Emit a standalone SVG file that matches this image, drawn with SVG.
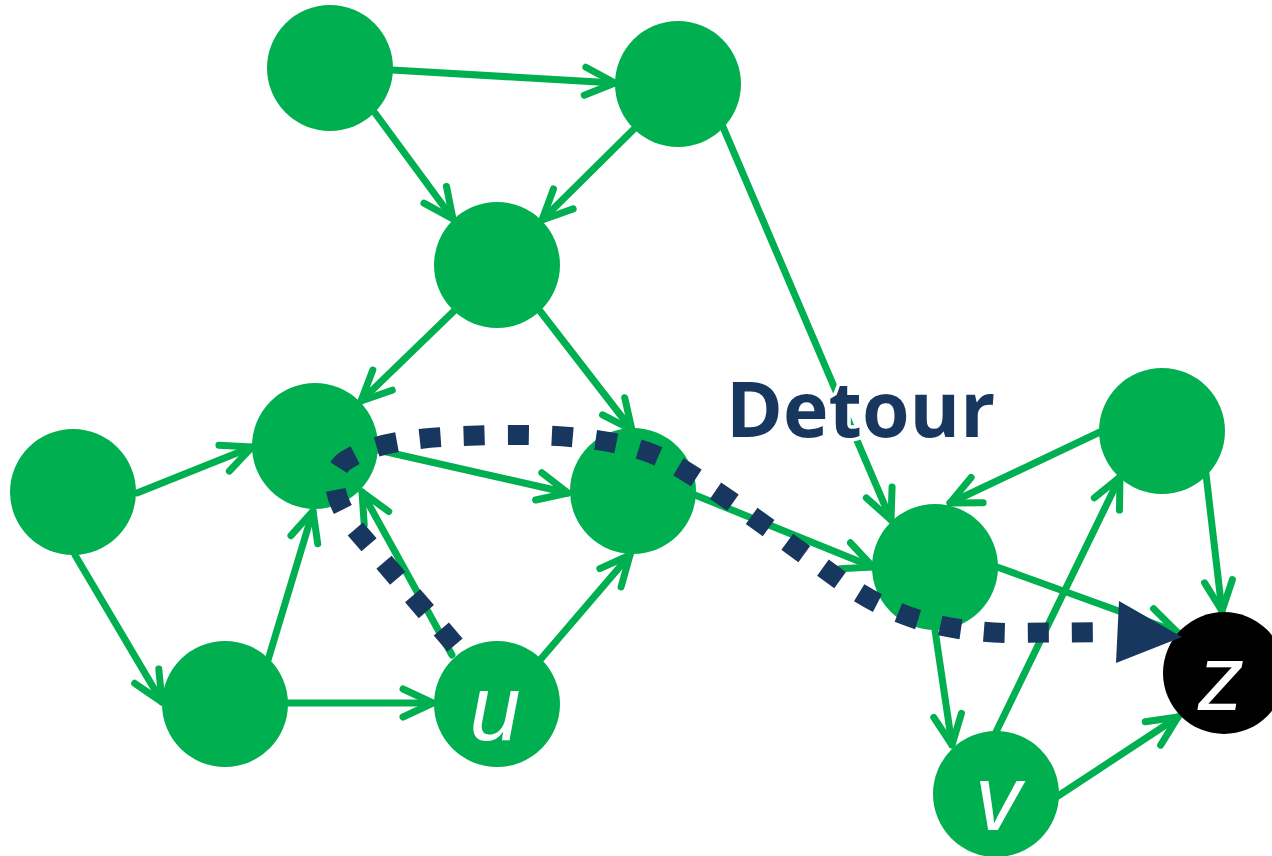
<svg xmlns="http://www.w3.org/2000/svg" width="1272" height="856" viewBox="0 0 1272 856">
  <style>
    .edge { stroke: #00b050; stroke-width: 7; stroke-linecap: round; fill: none; marker-end: url(#chev); }
    .node { fill: #00b050; }
    .sink { fill: #000000; }
    .lbl { font-family: "Liberation Sans", Arial, sans-serif; font-style: italic; font-size: 92px; fill: #ffffff; text-anchor: middle; }
    .detour { stroke: #17375e; stroke-width: 20; stroke-dasharray: 21 23; fill: none; }
    .title { font-family: "Open Sans", "Noto Sans", sans-serif; font-weight: 700; font-size: 77px; fill: #17375e; stroke: #ffffff; stroke-width: 7; paint-order: stroke; stroke-linejoin: round; }
  </style>
  <defs>
    <!-- open chevron arrowhead shared by all green edges -->
    <marker id="chev" markerUnits="userSpaceOnUse" viewBox="-36 -20 40 40" markerWidth="40" markerHeight="40" refX="0" refY="0" orient="auto" overflow="visible">
      <path d="M-30,-14 L0,0 L-30,14" fill="none" stroke="#00b050" stroke-width="7" stroke-linecap="round" stroke-linejoin="round"/>
    </marker>
  </defs>

  <rect width="1272" height="856" fill="#ffffff"/>

  <g id="connectors">
    <line class="edge" x1="392" y1="70" x2="615" y2="83"/>
    <line class="edge" x1="375" y1="113" x2="453" y2="219"/>
    <line class="edge" x1="635" y1="128" x2="542" y2="220"/>
    <line class="edge" x1="723" y1="127" x2="891" y2="520"/>
    <line class="edge" x1="455" y1="310" x2="361" y2="401"/>
    <line class="edge" x1="540" y1="311" x2="632" y2="430"/>
    <line class="edge" x1="137" y1="493" x2="252" y2="447"/>
    <line class="edge" x1="75" y1="555" x2="162" y2="702"/>
    <line class="edge" x1="268" y1="660" x2="313" y2="511"/>
    <line class="edge" x1="288" y1="703" x2="433" y2="703"/>
    <line class="edge" x1="452" y1="655" x2="362" y2="492"/>
    <line class="edge" x1="540" y1="660" x2="630" y2="555"/>
    <line class="edge" x1="378" y1="450" x2="568" y2="493"/>
    <line class="edge" x1="695" y1="495" x2="873" y2="567"/>
    <line class="edge" x1="1100" y1="432" x2="950" y2="503"/>
    <line class="edge" x1="997" y1="567" x2="1177" y2="632"/>
    <line class="edge" x1="1206" y1="474" x2="1222" y2="611"/>
    <line class="edge" x1="935" y1="630" x2="952" y2="745"/>
    <line class="edge" x1="996" y1="732" x2="1120" y2="477"/>
    <line class="edge" x1="1058" y1="796" x2="1178" y2="717"/>
  </g>

  <g id="n-a"><circle class="node" cx="330" cy="68" r="63"/></g>
  <g id="n-b"><circle class="node" cx="678" cy="84" r="63"/></g>
  <g id="n-c"><circle class="node" cx="497" cy="265" r="63"/></g>
  <g id="n-d"><circle class="node" cx="315" cy="446" r="63"/></g>
  <g id="n-e"><circle class="node" cx="73" cy="492" r="63"/></g>
  <g id="n-f"><circle class="node" cx="633" cy="491" r="63"/></g>
  <g id="n-g"><circle class="node" cx="225" cy="704" r="63"/></g>
  <g id="n-u"><circle class="node" cx="497" cy="704" r="63"/><text class="lbl" x="495" y="740">u</text></g>
  <g id="n-h"><circle class="node" cx="935" cy="567" r="63"/></g>
  <g id="n-i"><circle class="node" cx="1162" cy="431" r="63"/></g>
  <g id="n-v"><circle class="node" cx="996" cy="794" r="63"/><text class="lbl" x="998" y="830">v</text></g>
  <g id="n-z"><circle class="sink" cx="1224" cy="673" r="61"/><text class="lbl" x="1221" y="710">z</text></g>

  <g id="detour">
    <path class="detour" d="M 455,645 L 352,525 C 335,500 325,470 350,458 C 380,440 430,436 500,435 C 570,434 630,440 670,462 C 720,490 790,545 850,587 C 900,620 950,632 1010,633 L 1113,632"/>
    <polygon points="1119,601 1182,637 1116,663" fill="#17375e"/>
    <text class="title" x="726" y="437">Detour</text>
  </g>
</svg>
